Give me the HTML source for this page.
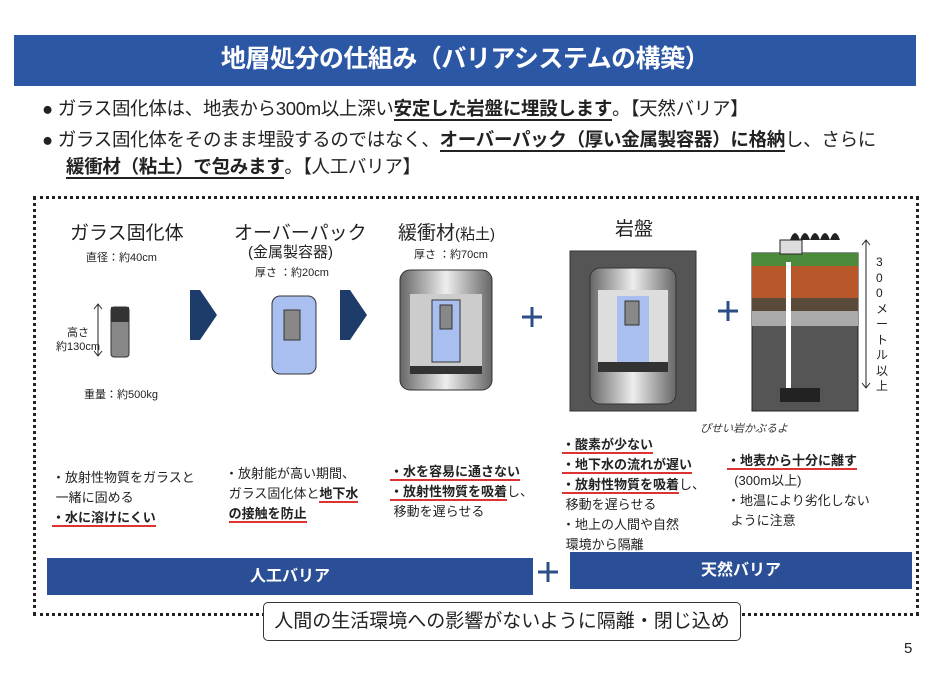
<!DOCTYPE html>
<html><head><meta charset="utf-8"><style>
body{margin:0;width:952px;height:695px;background:#fff;position:relative;overflow:hidden;font-family:"Liberation Sans","Noto Sans CJK JP",sans-serif;color:#222}
.a{position:absolute;white-space:nowrap}
u{text-decoration:none;border-bottom:2px solid #222}
.r{border-bottom:2px solid #d33;font-weight:bold}
.s{font-size:13px;line-height:20px}
</style></head><body>
<div class="a" style="left:14px;top:35px;width:902px;height:51px;background:#2b57a5"></div>
<div class="a" style="left:14px;top:39px;width:902px;text-align:center;color:#fff;font-size:25px;font-weight:bold;letter-spacing:-0.5px">地層処分の仕組み（バリアシステムの構築）</div>
<div class="a" style="left:42px;top:94px;font-size:18.5px;line-height:30px;letter-spacing:-0.3px">● ガラス固化体は、地表から300m以上深い<u><b>安定した岩盤に埋設します</b></u>。【天然バリア】</div>
<div class="a" style="left:42px;top:125px;font-size:18.5px;line-height:30px;letter-spacing:-0.3px">● ガラス固化体をそのまま埋設するのではなく、<u><b>オーバーパック（厚い金属製容器）に格納</b></u>し、さらに</div>
<div class="a" style="left:66px;top:152px;font-size:18.5px;line-height:30px;letter-spacing:-0.3px"><u><b>緩衝材（粘土）で包みます</b></u>。【人工バリア】</div>
<div class="a" style="left:33px;top:196px;width:880px;height:414px;border:3px dotted #222"></div>
<div class="a" style="left:70px;top:218px;font-size:19px">ガラス固化体</div>
<div class="a" style="left:86px;top:249px;font-size:11px">直径：約40cm</div>
<div class="a" style="left:234px;top:218px;font-size:19px">オーバーパック</div>
<div class="a" style="left:248px;top:241px;font-size:15px">(金属製容器)</div>
<div class="a" style="left:255px;top:264px;font-size:11px">厚さ ：約20cm</div>
<div class="a" style="left:398px;top:218px;font-size:19px">緩衝材<span style="font-size:15px">(粘土)</span></div>
<div class="a" style="left:414px;top:246px;font-size:11px">厚さ ：約70cm</div>
<div class="a" style="left:615px;top:214px;font-size:19px">岩盤</div>
<div class="a" style="left:56px;top:326px;font-size:11px;text-align:center;line-height:14px">高さ<br>約130cm</div>
<div class="a" style="left:84px;top:386px;font-size:11px">重量：約500kg</div>
<svg class="a" style="left:0;top:0" width="952" height="695">
<defs><linearGradient id="m" x1="0" x2="1"><stop offset="0" stop-color="#666"/><stop offset=".5" stop-color="#eee"/><stop offset="1" stop-color="#666"/></linearGradient></defs>
<!-- glass -->
<line x1="98" y1="305" x2="98" y2="355" stroke="#222"/><path d="M94 309l4-5 4 5M94 351l4 5 4-5" fill="none" stroke="#222"/>
<rect x="111" y="307" width="18" height="50" rx="3" fill="#888" stroke="#333"/><rect x="111" y="307" width="18" height="15" fill="#333"/>
<!-- arrows -->
<path d="M190 290h10l17 25-17 25h-10z" fill="#1e3c6a"/><path d="M340 290h10l17 25-17 25h-10z" fill="#1e3c6a"/>
<!-- overpack -->
<rect x="272" y="296" width="44" height="78" rx="8" fill="#a9bff0" stroke="#333"/><rect x="284" y="310" width="16" height="30" fill="#888" stroke="#333"/>
<!-- buffer -->
<rect x="400" y="270" width="92" height="120" rx="10" fill="url(#m)" stroke="#333"/><rect x="410" y="294" width="72" height="72" fill="#ccc"/><rect x="432" y="300" width="28" height="62" fill="#a9bff0" stroke="#333"/><rect x="440" y="305" width="12" height="24" fill="#888" stroke="#333"/><rect x="410" y="366" width="72" height="8" fill="#333"/>
<!-- rock -->
<rect x="570" y="251" width="126" height="160" fill="#555" stroke="#333"/><rect x="590" y="268" width="86" height="136" rx="10" fill="url(#m)" stroke="#333"/><rect x="598" y="290" width="70" height="72" fill="#ddd"/><rect x="617" y="296" width="32" height="70" fill="#a9bff0"/><rect x="625" y="301" width="14" height="24" fill="#888" stroke="#333"/><rect x="598" y="362" width="70" height="10" fill="#333"/>
<!-- plus -->
<g stroke="#2b4f86" stroke-width="3"><path d="M522 317h20M532 307v20M718 311h20M728 301v20M538 572h20M548 562v20"/></g>
<!-- ground -->
<rect x="752" y="253" width="106" height="158" fill="#555" stroke="#222"/>
<rect x="752" y="253" width="106" height="13" fill="#4a8a3a"/><rect x="752" y="266" width="106" height="32" fill="#b8582a"/><rect x="752" y="298" width="106" height="13" fill="#5a4a3a"/><rect x="752" y="311" width="106" height="15" fill="#aaa"/>
<rect x="780" y="240" width="22" height="14" fill="#ddd" stroke="#222"/><path d="M790 240q5-14 10 0q5-14 10 0q5-14 10 0q5-14 10 0q5-14 10 0z" fill="#222"/>
<rect x="786" y="262" width="5" height="130" fill="#fff"/><rect x="780" y="388" width="40" height="14" fill="#222"/>
<line x1="866" y1="240" x2="866" y2="388" stroke="#222"/><path d="M862 245l4-5 4 5M862 383l4 5 4-5" fill="none" stroke="#222"/>
</svg>
<div class="a" style="left:876px;top:255px;font-size:12px;line-height:15.5px;width:12px;white-space:normal">3 0 0 メ ー ト ル 以 上</div>
<div class="a" style="left:700px;top:420px;font-size:11px;font-style:italic;color:#333">ぴせい岩かぶるよ</div>
<div class="a s" style="left:52px;top:468px">・放射性物質をガラスと<br>&nbsp;一緒に固める<br><span class="r">・水に溶けにくい</span></div>
<div class="a s" style="left:225px;top:464px">・放射能が高い期間、<br>&nbsp;ガラス固化体と<span class="r">地下水</span><br>&nbsp;<span class="r">の接触を防止</span></div>
<div class="a s" style="left:390px;top:462px"><span class="r">・水を容易に通さない</span><br><span class="r">・放射性物質を吸着</span>し、<br>&nbsp;移動を遅らせる</div>
<div class="a s" style="left:562px;top:435px"><span class="r">・酸素が少ない</span><br><span class="r">・地下水の流れが遅い</span><br><span class="r">・放射性物質を吸着</span>し、<br>&nbsp;移動を遅らせる<br>・地上の人間や自然<br>&nbsp;環境から隔離</div>
<div class="a s" style="left:727px;top:451px"><span class="r">・地表から十分に離す</span><br>&nbsp;&nbsp;(300m以上)<br>・地温により劣化しない<br>&nbsp;ように注意</div>
<div class="a" style="left:47px;top:558px;width:486px;height:37px;background:#2b4f96;color:#fff;font-size:16px;font-weight:bold;text-align:center;line-height:37px">人工バリア</div>
<div class="a" style="left:570px;top:552px;width:342px;height:37px;background:#2b4f96;color:#fff;font-size:16px;font-weight:bold;text-align:center;line-height:37px">天然バリア</div>
<div class="a" style="left:263px;top:602px;width:476px;height:37px;border:1.5px solid #333;border-radius:5px;background:#fff;font-size:19px;text-align:center;line-height:37px">人間の生活環境への影響がないように隔離・閉じ込め</div>
<div class="a" style="left:904px;top:640px;font-size:15px">5</div>
</body></html>
